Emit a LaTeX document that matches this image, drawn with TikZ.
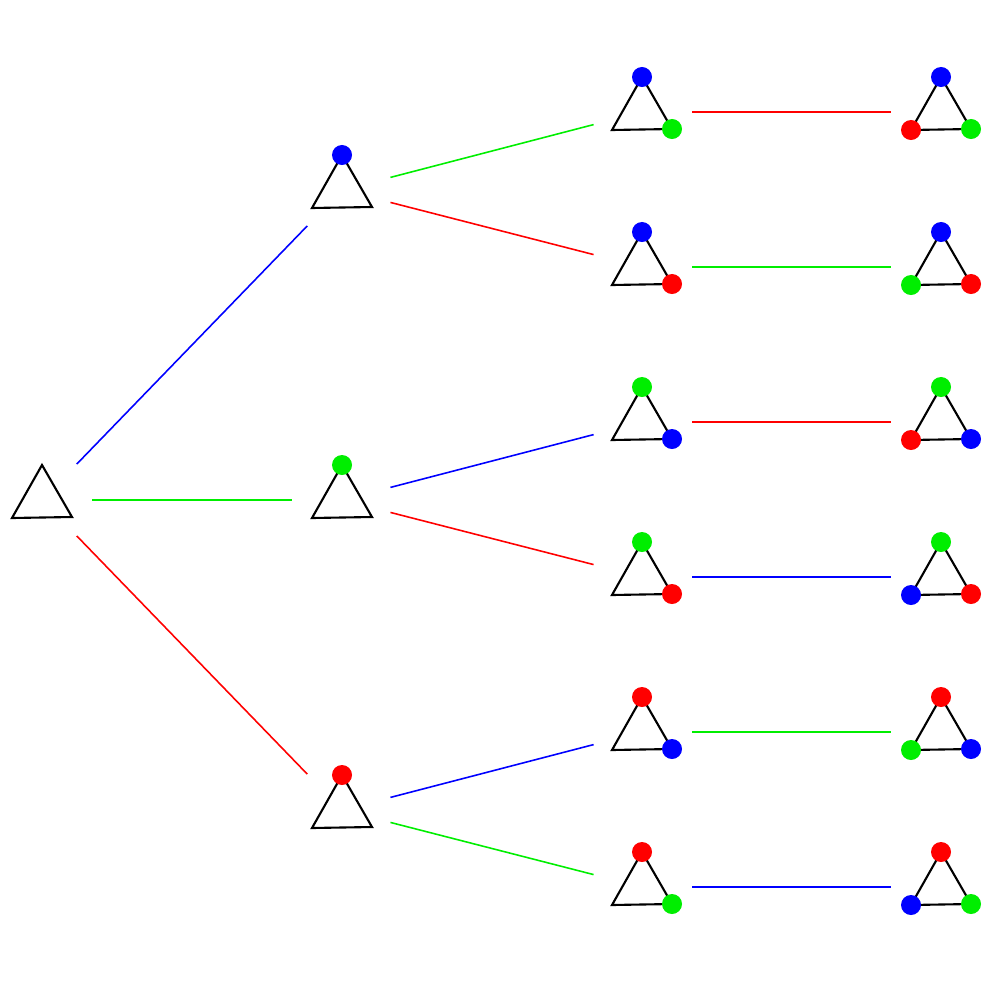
\documentclass[tikz,border=0pt]{standalone}
\begin{document}
\begin{tikzpicture}[x=0.01cm,y=-0.01cm,
  tril/.style={draw=black,line width=0.6pt,line join=miter},
  conn/.style={line width=0.45pt,shorten >=0.5cm,shorten <=0.5cm},
  dot/.style={circle,inner sep=0pt,minimum size=0.2cm,draw=none}]
\definecolor{cb}{RGB}{0,0,255}
\definecolor{cg}{RGB}{0,238,0}
\definecolor{cr}{RGB}{255,0,0}
\useasboundingbox (0,0) rectangle (1000,1000);
\newcommand\mytri[3]{%
  \coordinate (#1) at (#2,#3);
  \coordinate (#1-t) at (#2,#3-35);
  \coordinate (#1-l) at (#2-30,#3+18);
  \coordinate (#1-r) at (#2+30,#3+17);
  \draw[tril] (#1-t) -- (#1-l) -- (#1-r) -- cycle;}
% triangles
\mytri{r}{42}{500}
\mytri{a}{342}{190}
\mytri{b}{342}{500}
\mytri{c}{342}{810}
\mytri{a1}{642}{112}
\mytri{a2}{642}{267}
\mytri{b1}{642}{422}
\mytri{b2}{642}{577}
\mytri{c1}{642}{732}
\mytri{c2}{642}{887}
\mytri{a1x}{941}{112}
\mytri{a2x}{941}{267}
\mytri{b1x}{941}{422}
\mytri{b2x}{941}{577}
\mytri{c1x}{941}{732}
\mytri{c2x}{941}{887}
% connectors
\draw[conn,cb] (r) -- (a);
\draw[conn,cg] (r) -- (b);
\draw[conn,cr] (r) -- (c);
\draw[conn,cg] (a) -- (a1);
\draw[conn,cr] (a) -- (a2);
\draw[conn,cb] (b) -- (b1);
\draw[conn,cr] (b) -- (b2);
\draw[conn,cb] (c) -- (c1);
\draw[conn,cg] (c) -- (c2);
\draw[conn,cr] (a1) -- (a1x);
\draw[conn,cg] (a2) -- (a2x);
\draw[conn,cr] (b1) -- (b1x);
\draw[conn,cb] (b2) -- (b2x);
\draw[conn,cg] (c1) -- (c1x);
\draw[conn,cb] (c2) -- (c2x);
% coloured vertices
\node[dot,fill=cb] (da) at (a-t) {};
\node[dot,fill=cg] (db) at (b-t) {};
\node[dot,fill=cr] (dc) at (c-t) {};
\node[dot,fill=cb] (da1t) at (a1-t) {};
\node[dot,fill=cg] (da1r) at (a1-r) {};
\node[dot,fill=cb] (da2t) at (a2-t) {};
\node[dot,fill=cr] (da2r) at (a2-r) {};
\node[dot,fill=cg] (db1t) at (b1-t) {};
\node[dot,fill=cb] (db1r) at (b1-r) {};
\node[dot,fill=cg] (db2t) at (b2-t) {};
\node[dot,fill=cr] (db2r) at (b2-r) {};
\node[dot,fill=cr] (dc1t) at (c1-t) {};
\node[dot,fill=cb] (dc1r) at (c1-r) {};
\node[dot,fill=cr] (dc2t) at (c2-t) {};
\node[dot,fill=cg] (dc2r) at (c2-r) {};
\node[dot,fill=cb] (ea1t) at (a1x-t) {};
\node[dot,fill=cr] (ea1l) at (a1x-l) {};
\node[dot,fill=cg] (ea1r) at (a1x-r) {};
\node[dot,fill=cb] (ea2t) at (a2x-t) {};
\node[dot,fill=cg] (ea2l) at (a2x-l) {};
\node[dot,fill=cr] (ea2r) at (a2x-r) {};
\node[dot,fill=cg] (eb1t) at (b1x-t) {};
\node[dot,fill=cr] (eb1l) at (b1x-l) {};
\node[dot,fill=cb] (eb1r) at (b1x-r) {};
\node[dot,fill=cg] (eb2t) at (b2x-t) {};
\node[dot,fill=cb] (eb2l) at (b2x-l) {};
\node[dot,fill=cr] (eb2r) at (b2x-r) {};
\node[dot,fill=cr] (ec1t) at (c1x-t) {};
\node[dot,fill=cg] (ec1l) at (c1x-l) {};
\node[dot,fill=cb] (ec1r) at (c1x-r) {};
\node[dot,fill=cr] (ec2t) at (c2x-t) {};
\node[dot,fill=cb] (ec2l) at (c2x-l) {};
\node[dot,fill=cg] (ec2r) at (c2x-r) {};
\end{tikzpicture}
\end{document}
